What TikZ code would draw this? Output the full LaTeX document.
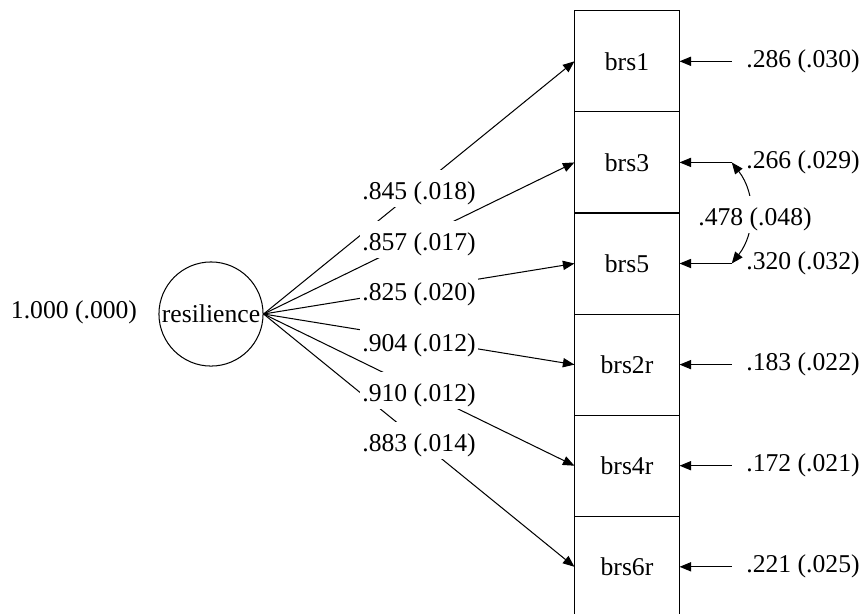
\documentclass[tikz,border=0pt]{standalone}
\usepackage{fontspec}
\setmainfont{Liberation Serif}
\usetikzlibrary{arrows.meta}

\tikzset{
  lat/.style={draw, circle, minimum size=40.6pt, inner sep=0pt},
  ind/.style={draw, rectangle, minimum width=40.6pt, minimum height=39.4pt, inner sep=0pt},
  est/.style={fill=white, anchor=base, inner xsep=1pt, inner ysep=0.5pt, text height=11pt, text depth=2.5pt},
  err/.style={inner xsep=5.5pt, inner ysep=1pt},
  >={Triangle[length=4.5pt,width=3.6pt]}
}

\begin{document}
\begin{tikzpicture}[x=0.39pt, y=-0.39pt]
\useasboundingbox (0,0) rectangle (864,613);

% factor
  \node[lat] (res) at (211,314) {resilience};
  \node (var) at (74,312) {1.000 (.000)};

% indicators
  \node[ind] (brs1)  at (627,61.3)  {brs1};
  \node[ind] (brs3)  at (627,162.4) {brs3};
  \node[ind] (brs5)  at (627,263.5) {brs5};
  \node[ind] (brs2r) at (627,364.6) {brs2r};
  \node[ind] (brs4r) at (627,465.7) {brs4r};
  \node[ind] (brs6r) at (627,566.8) {brs6r};

% residual variances
  \node[err] (e1) at (803,61.3)  {.286 (.030)};
  \node[err] (e3) at (803,162.4) {.266 (.029)};
  \node[err] (e5) at (803,263.5) {.320 (.032)};
  \node[err] (e2) at (803,364.6) {.183 (.022)};
  \node[err] (e4) at (803,465.7) {.172 (.021)};
  \node[err] (e6) at (803,566.8) {.221 (.025)};

\begin{scope}[->]
  \draw (e1.west) -- (brs1.east);
  \draw (e3.west) -- (brs3.east);
  \draw (e5.west) -- (brs5.east);
  \draw (e2.west) -- (brs2r.east);
  \draw (e4.west) -- (brs4r.east);
  \draw (e6.west) -- (brs6r.east);

  \draw (res.east) -- (brs1.west);
  \draw (res.east) -- (brs3.west);
  \draw (res.east) -- (brs5.west);
  \draw (res.east) -- (brs2r.west);
  \draw (res.east) -- (brs4r.west);
  \draw (res.east) -- (brs6r.west);
\end{scope}

% error covariance
  \draw[<->] (e3.west) to[bend left=38] (e5.west);
  \node[est] (cov) at (755,225) {.478 (.048)};

% loadings
  \node[est] (l1) at (419,199) {.845 (.018)};
  \node[est] (l3) at (419,250) {.857 (.017)};
  \node[est] (l5) at (419,300) {.825 (.020)};
  \node[est] (l2) at (419,351) {.904 (.012)};
  \node[est] (l4) at (419,401) {.910 (.012)};
  \node[est] (l6) at (419,451) {.883 (.014)};
\end{tikzpicture}
\end{document}
